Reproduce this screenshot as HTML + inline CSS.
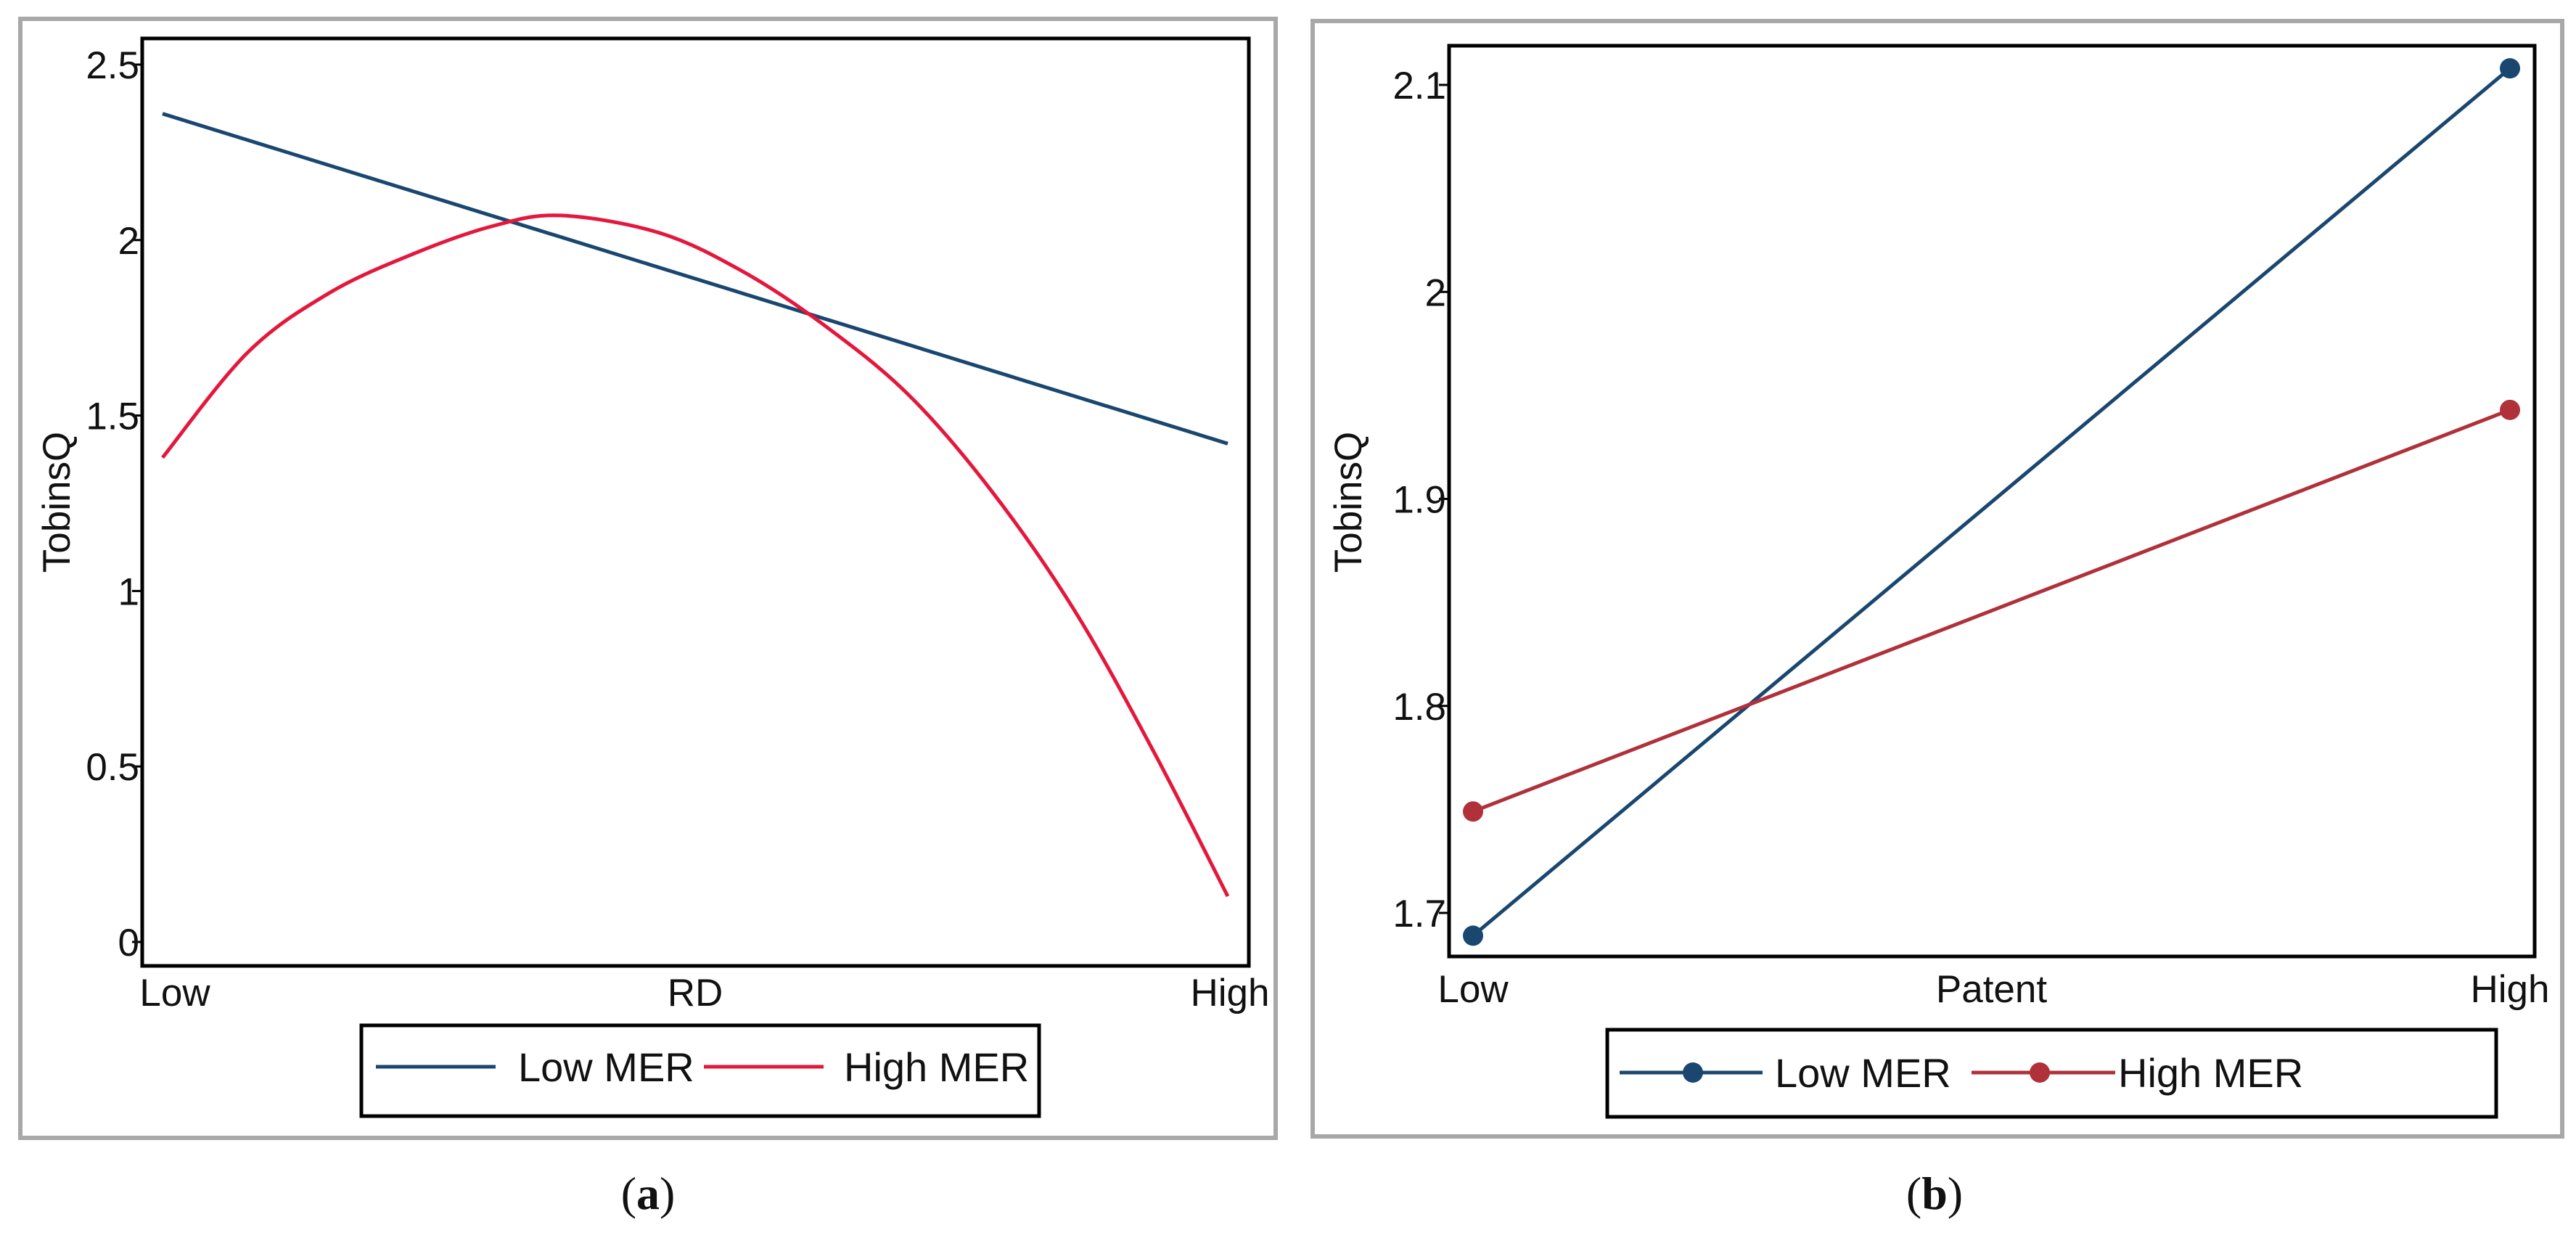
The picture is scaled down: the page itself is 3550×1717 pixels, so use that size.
<!DOCTYPE html>
<html><head><meta charset="utf-8"><style>
html,body{margin:0;padding:0;background:#fff;}
svg{display:block;}
text{font-family:"Liberation Sans",Arial,sans-serif;fill:#111;}
.cap{font-family:"Liberation Serif",serif;}
</style></head><body>
<svg id="fig" width="3550" height="1717" viewBox="0 0 3550 1717" xmlns="http://www.w3.org/2000/svg">
<g id="pa"></g>
<g id="pb"></g>
</svg>
<script>
// Panel (a) data
const aYTicks = [0, 0.5, 1, 1.5, 2, 2.5];
const aYTickLabels = ["0", "0.5", "1", "1.5", "2", "2.5"];
const aXCats = ["Low", "RD", "High"];
const aLowX = [0, 1];
const aLowY = [2.36, 1.42];
const aHighX = [0, 0.08, 0.157, 0.235, 0.31, 0.374, 0.467, 0.545, 0.62, 0.70, 0.777, 0.855, 0.93, 1];
const aHighY = [1.38, 1.68, 1.85, 1.96, 2.04, 2.07, 2.02, 1.91, 1.76, 1.56, 1.29, 0.95, 0.545, 0.13];
// Panel (b) data
const bYTicks = [1.7, 1.8, 1.9, 2.0, 2.1];
const bYTickLabels = ["1.7", "1.8", "1.9", "2", "2.1"];
const bXCats = ["Low", "Patent", "High"];
const bX = [0, 1];
const bLowY = [1.689, 2.108];
const bHighY = [1.749, 1.943];

const NS = "http://www.w3.org/2000/svg";
function mk(parent, tag, attrs, txt){
  const e = document.createElementNS(NS, tag);
  for (const k in attrs) e.setAttribute(k, attrs[k]);
  if (txt !== undefined) e.textContent = txt;
  parent.appendChild(e);
  return e;
}
function smoothPath(P){
  let d = "M" + P[0][0].toFixed(1) + "," + P[0][1].toFixed(1);
  for (let i = 0; i < P.length - 1; i++){
    const p0 = P[Math.max(0, i-1)], p1 = P[i], p2 = P[i+1], p3 = P[Math.min(P.length-1, i+2)];
    const c1 = [p1[0] + (p2[0]-p0[0])/6, p1[1] + (p2[1]-p0[1])/6];
    const c2 = [p2[0] - (p3[0]-p1[0])/6, p2[1] - (p3[1]-p1[1])/6];
    d += " C" + c1[0].toFixed(1) + "," + c1[1].toFixed(1) + " " + c2[0].toFixed(1) + "," + c2[1].toFixed(1) + " " + p2[0].toFixed(1) + "," + p2[1].toFixed(1);
  }
  return d;
}

function panel(g, cfg){
  const sx = v => cfg.x0 + v * (cfg.x1 - cfg.x0);
  const sy = v => cfg.py0 + (v - cfg.v0) * (cfg.py1 - cfg.py0) / (cfg.v1 - cfg.v0);
  let e = mk(g, "rect", {x:cfg.gx, y:cfg.gy, width:cfg.gw, height:cfg.gh, fill:"none", stroke:"#a8a8a8", "stroke-width":6});
  
  
  e = mk(g, "rect", {x:cfg.bx, y:cfg.by, width:cfg.bw, height:cfg.bh, fill:"none", stroke:"#000", "stroke-width":5});
  
  
  cfg.ticks.forEach((t, i) => {
    const y = sy(t);
    let tk = mk(g, "line", {x1:cfg.bx - 14, x2:cfg.bx, y1:y, y2:y, stroke:"#000", "stroke-width":3});
    
    
    let tl = mk(g, "text", {x:cfg.bx - 4, y:y + 19, "text-anchor":"end", "font-size":53}, cfg.tickLabels[i]);
    
    
  });
  let yt = mk(g, "text", {x:cfg.ytx, y:cfg.yty, "text-anchor":"middle", "font-size":53, transform:`rotate(-90 ${cfg.ytx} ${cfg.yty})`}, "TobinsQ");
  
  
  const xl = [sx(0), (sx(0)+sx(1))/2 + cfg.midOff, sx(1)];
  cfg.cats.forEach((c, i) => {
    let t = mk(g, "text", {x:xl[i] + (i===0?cfg.lowOff:0) + (i===2?cfg.highOff:0), y:cfg.xly, "text-anchor":"middle", "font-size":53}, c);
    
    
  });
  cfg.series.forEach(s => {
    const P = s.xs.map((x, i) => [sx(x), sy(s.ys[i])]);
    let p = mk(g, "path", {d:smoothPath(P), fill:"none", stroke:s.color, "stroke-width":5, "stroke-linejoin":"round"});
    
    
    if (s.marker) s.xs.forEach((x, i) => {
      let c = mk(g, "circle", {cx:sx(x), cy:sy(s.ys[i]), r:14, fill:s.color});
      
      
    });
  });
  const L = cfg.leg;
  let lb = mk(g, "rect", {x:L.x, y:L.y, width:L.w, height:L.h, fill:"#fff", stroke:"#000", "stroke-width":5});
  
  
  L.items.forEach(it => {
    let ln = mk(g, "line", {x1:it.x1, x2:it.x2, y1:L.ly, y2:L.ly, stroke:it.color, "stroke-width":5});
    
    
    if (it.mx) {
      let c = mk(g, "circle", {cx:it.mx, cy:L.ly, r:14, fill:it.color});
      
      
    }
    let t = mk(g, "text", {x:it.tx, y:L.ly + 20, "font-size":56}, it.label);
    
    
  });
  let cap = mk(g, "text", {x:cfg.capx, y:1666, "text-anchor":"middle", "font-size":64, class:"cap"});
  
  
  mk(cap, "tspan", {}, "(");
  mk(cap, "tspan", {"font-weight":"bold"}, cfg.capLetter);
  mk(cap, "tspan", {}, ")");
}

panel(document.getElementById("pa"), {
  gx:28, gy:26, gw:1730, gh:1542,
  bx:196, by:53, bw:1525, bh:1278,
  x0:224, x1:1692, v0:0, v1:2.5, py0:1298, py1:89,
  ticks:aYTicks, tickLabels:aYTickLabels, cats:aXCats,
  ytx:96, yty:692, xly:1386, midOff:0, lowOff:17, highOff:3,
  series:[
    {name:"low-mer", xs:aLowX, ys:aLowY, color:"#1a476f"},
    {name:"high-mer", xs:aHighX, ys:aHighY, color:"#e4173c"}
  ],
  leg:{x:498, y:1413, w:934, h:125, ly:1470, items:[
    {x1:518, x2:683, color:"#1a476f", tx:714, label:"Low MER"},
    {x1:970, x2:1135, color:"#e4173c", tx:1163, label:"High MER"}
  ]},
  capx:893, capLetter:"a"
});

panel(document.getElementById("pb"), {
  gx:1809, gy:29, gw:1722, gh:1537,
  bx:1997, by:63, bw:1496, bh:1255,
  x0:2030, x1:3459, v0:1.7, v1:2.1, py0:1258, py1:117,
  ticks:bYTicks, tickLabels:bYTickLabels, cats:bXCats,
  ytx:1876, yty:692, xly:1381, midOff:0, lowOff:0, highOff:0,
  series:[
    {name:"low-mer", xs:bX, ys:bLowY, color:"#1a476f", marker:true},
    {name:"high-mer", xs:bX, ys:bHighY, color:"#b0313a", marker:true}
  ],
  leg:{x:2215, y:1419, w:1225, h:120, ly:1478, items:[
    {x1:2232, x2:2429, mx:2333, color:"#1a476f", tx:2446, label:"Low MER"},
    {x1:2717, x2:2915, mx:2811, color:"#b0313a", tx:2919, label:"High MER"}
  ]},
  capx:2666, capLetter:"b"
});
</script>
</body></html>
